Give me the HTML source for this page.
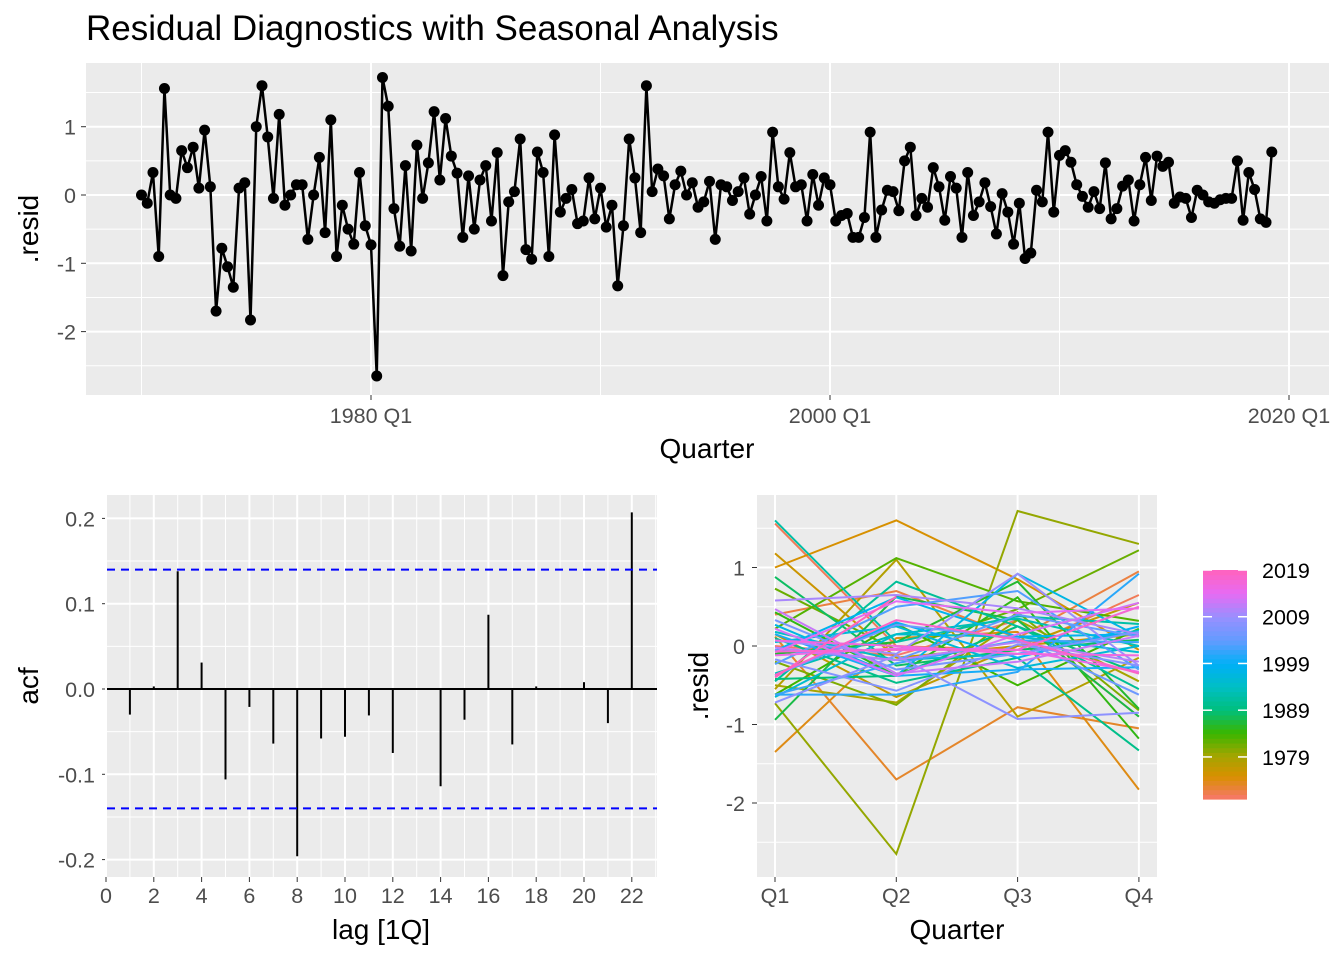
<!DOCTYPE html>
<html><head><meta charset="utf-8"><style>
html,body{margin:0;padding:0;background:#fff}
svg{display:block;font-family:"Liberation Sans",sans-serif}
</style></head><body>
<svg id="chart" width="1344" height="960" viewBox="0 0 1344 960" xmlns="http://www.w3.org/2000/svg">
<text x="86" y="40" font-size="35" fill="#000">Residual Diagnostics with Seasonal Analysis</text>
<g id="top"></g>
<g id="acf"></g>
<g id="season"></g>
<g id="legend"></g>
</svg>
<script>
const startYear = 1970;
const residuals = [
0.0,-0.12,0.33,-0.9, 1.56,0.0,-0.05,0.65, 0.4,0.7,0.1,0.95, 0.12,-1.7,-0.78,-1.05,
-1.35,0.1,0.18,-1.83, 1.0,1.6,0.85,-0.05, 1.18,-0.15,0.0,0.15, 0.15,-0.65,0.0,0.55,
-0.55,1.1,-0.9,-0.15, -0.5,-0.72,0.33,-0.45, -0.73,-2.65,1.72,1.3, -0.2,-0.75,0.43,-0.82,
0.73,-0.05,0.47,1.22, 0.22,1.12,0.57,0.32, -0.62,0.28,-0.5,0.22, 0.43,-0.38,0.62,-1.18,
-0.1,0.05,0.82,-0.8, -0.94,0.63,0.33,-0.9, 0.88,-0.25,-0.05,0.08, -0.42,-0.38,0.25,-0.35,
0.1,-0.47,-0.15,-1.33, -0.45,0.82,0.25,-0.55, 1.6,0.05,0.38,0.28, -0.35,0.15,0.35,0.0,
0.18,-0.18,-0.1,0.2, -0.65,0.15,0.12,-0.08, 0.05,0.25,-0.28,0.0, 0.27,-0.38,0.92,0.12,
-0.06,0.62,0.12,0.15, -0.38,0.3,-0.15,0.25, 0.15,-0.38,-0.3,-0.27, -0.62,-0.62,-0.33,0.92,
-0.62,-0.22,0.07,0.05, -0.23,0.5,0.7,-0.3, -0.05,-0.18,0.4,0.12, -0.37,0.27,0.1,-0.62,
0.33,-0.3,-0.1,0.18, -0.17,-0.57,0.02,-0.25, -0.72,-0.12,-0.93,-0.85, 0.07,-0.1,0.92,-0.25,
0.58,0.65,0.48,0.15, -0.02,-0.18,0.05,-0.2, 0.47,-0.35,-0.2,0.13, 0.22,-0.38,0.15,0.55,
-0.08,0.57,0.42,0.48, -0.12,-0.03,-0.05,-0.33, 0.07,0.0,-0.1,-0.12, -0.07,-0.05,-0.05,0.5,
-0.37,0.33,0.08,-0.35, -0.4,0.63];
const acfLags = [1,2,3,4,5,6,7,8,9,10,11,12,13,14,15,16,17,18,19,20,21,22];
const acfValues = [-0.03,0.003,0.138,0.031,-0.106,-0.021,-0.064,-0.196,-0.058,-0.056,-0.031,-0.075,0.0,-0.114,-0.036,0.087,-0.065,0.003,0.0,0.008,-0.04,0.207];
const acfBound = 0.14;
const topYTicks = [1,0,-1,-2];
const topXTicks = [1980,2000,2020];
const acfYTicks = [0.2,0.1,0.0,-0.1,-0.2];
const acfXTicks = [0,2,4,6,8,10,12,14,16,18,20,22];
const quarterLabels = ["Q1","Q2","Q3","Q4"];
const legendYears = [2019,2009,1999,1989,1979];

const NS="http://www.w3.org/2000/svg";
function mk(parent,tag,attrs,text){const e=document.createElementNS(NS,tag);for(const k in attrs)e.setAttribute(k,attrs[k]);if(text!==undefined)e.textContent=text;parent.appendChild(e);return e;}
const TICK="#4d4d4d", GRID="#ffffff", PANEL="#ebebeb";
const TS=21.5, AS=28;

// colour gradient anchors (year fraction 0..1)
const cAnch=[[0,[248,118,109]],[0.1,[216,144,0]],[0.19,[163,165,0]],[0.29,[57,182,0]],[0.39,[0,191,125]],[0.49,[0,191,196]],[0.59,[0,176,246]],[0.69,[97,156,255]],[0.79,[149,144,255]],[0.9,[231,107,243]],[1,[255,98,188]]];
function yearColor(y){let t=(y-startYear)/(2019-startYear);t=Math.max(0,Math.min(1,t));
for(let i=0;i<cAnch.length-1;i++){const a=cAnch[i],b=cAnch[i+1];if(t<=b[0]){const f=(t-a[0])/(b[0]-a[0]);
return `rgb(${a[1].map((v,k)=>Math.round(v+(b[1][k]-v)*f)).join(',')})`;}}
return 'rgb(255,98,188)';}
const lastYear=startYear+Math.floor((residuals.length-1)/4);

// ---------- top panel ----------
(function(){
const g=document.getElementById('top');
const L=86,R=1329,T=63,B=395;
const xq=q=>371+(q-(1980-startYear)*4)*(459/80);
const xy=yr=>xq((yr-startYear)*4);
const y=v=>195-v*68.3;
let p=mk(g,'rect',{x:L,y:T,width:R-L,height:B-T,fill:PANEL});

[1.5,0.5,-0.5,-1.5,-2.5].forEach(v=>mk(g,'line',{x1:L,x2:R,y1:y(v),y2:y(v),stroke:GRID,'stroke-width':1}));
[1970,1990,2010].forEach(yr=>mk(g,'line',{x1:xy(yr),x2:xy(yr),y1:T,y2:B,stroke:GRID,'stroke-width':1}));
topYTicks.forEach(v=>{mk(g,'line',{x1:L,x2:R,y1:y(v),y2:y(v),stroke:GRID,'stroke-width':2});
mk(g,'line',{x1:L-5,x2:L,y1:y(v),y2:y(v),stroke:'#333','stroke-width':1});
const t=mk(g,'text',{x:L-10,y:y(v)+8,'font-size':TS,fill:TICK,'text-anchor':'end'},String(v));
});
topXTicks.forEach(yr=>{mk(g,'line',{x1:xy(yr),x2:xy(yr),y1:T,y2:B,stroke:GRID,'stroke-width':2});
mk(g,'line',{x1:xy(yr),x2:xy(yr),y1:B,y2:B+5,stroke:'#333','stroke-width':1});
const t=mk(g,'text',{x:xy(yr),y:B+28,'font-size':TS,fill:TICK,'text-anchor':'middle'},yr+' Q1');
});
const pts=residuals.map((v,i)=>xq(i).toFixed(2)+','+y(v).toFixed(2)).join(' ');
const ln=mk(g,'polyline',{points:pts,fill:'none',stroke:'#000','stroke-width':2.5,'stroke-linejoin':'round'});

residuals.forEach((v,i)=>{const c=mk(g,'circle',{cx:xq(i),cy:y(v),r:5.5,fill:'#000'});
});
let t=mk(g,'text',{x:707,y:458,'font-size':AS,fill:'#000','text-anchor':'middle'},'Quarter');

t=mk(g,'text',{x:0,y:0,'font-size':AS,fill:'#000','text-anchor':'middle',transform:'translate(38,229) rotate(-90)'},'.resid');

})();

// ---------- ACF ----------
(function(){
const g=document.getElementById('acf');
const L=107,R=657,T=495,B=877;
const x=l=>106+l*23.9;
const y=v=>689-v*853;
let p=mk(g,'rect',{x:L,y:T,width:R-L,height:B-T,fill:PANEL});

[0.25,0.15,0.05,-0.05,-0.15].forEach(v=>mk(g,'line',{x1:L,x2:R,y1:y(v),y2:y(v),stroke:GRID,'stroke-width':1}));
for(let l=1;l<=23;l+=2)mk(g,'line',{x1:x(l),x2:x(l),y1:T,y2:B,stroke:GRID,'stroke-width':1});
acfYTicks.forEach(v=>{mk(g,'line',{x1:L,x2:R,y1:y(v),y2:y(v),stroke:GRID,'stroke-width':2});
mk(g,'line',{x1:L-5,x2:L,y1:y(v),y2:y(v),stroke:'#333','stroke-width':1});
const t=mk(g,'text',{x:L-12,y:y(v)+8,'font-size':TS,fill:TICK,'text-anchor':'end'},v.toFixed(1));
});
acfXTicks.forEach(l=>{mk(g,'line',{x1:x(l),x2:x(l),y1:T,y2:B,stroke:GRID,'stroke-width':2});
mk(g,'line',{x1:x(l),x2:x(l),y1:B,y2:B+5,stroke:'#333','stroke-width':1});
const t=mk(g,'text',{x:x(l),y:B+26,'font-size':TS,fill:TICK,'text-anchor':'middle'},String(l));
});
mk(g,'line',{x1:L,x2:R,y1:y(0),y2:y(0),stroke:'#000','stroke-width':2});
acfLags.forEach((l,i)=>{const b=mk(g,'line',{x1:x(l),x2:x(l),y1:y(0),y2:y(acfValues[i]),stroke:'#000','stroke-width':2});
});
[acfBound,-acfBound].forEach(v=>{const d=mk(g,'line',{x1:L,x2:R,y1:y(v),y2:y(v),stroke:'#0000ff','stroke-width':2,'stroke-dasharray':'8,6'});
});
let t=mk(g,'text',{x:381,y:939,'font-size':AS,fill:'#000','text-anchor':'middle'},'lag [1Q]');

t=mk(g,'text',{x:0,y:0,'font-size':AS,fill:'#000','text-anchor':'middle',transform:'translate(38,686) rotate(-90)'},'acf');

})();

// ---------- seasonal ----------
(function(){
const g=document.getElementById('season');
const L=757,R=1157,T=495,B=877;
const x=q=>775+q*121.3;
const y=v=>646-v*78.5;
let p=mk(g,'rect',{x:L,y:T,width:R-L,height:B-T,fill:PANEL});

[1.5,0.5,-0.5,-1.5,-2.5].forEach(v=>mk(g,'line',{x1:L,x2:R,y1:y(v),y2:y(v),stroke:GRID,'stroke-width':1}));
topYTicks.forEach(v=>{mk(g,'line',{x1:L,x2:R,y1:y(v),y2:y(v),stroke:GRID,'stroke-width':2});
mk(g,'line',{x1:L-5,x2:L,y1:y(v),y2:y(v),stroke:'#333','stroke-width':1});
const t=mk(g,'text',{x:L-12,y:y(v)+8,'font-size':TS,fill:TICK,'text-anchor':'end'},String(v));
});
quarterLabels.forEach((q,i)=>{mk(g,'line',{x1:x(i),x2:x(i),y1:T,y2:B,stroke:GRID,'stroke-width':2});
mk(g,'line',{x1:x(i),x2:x(i),y1:B,y2:B+5,stroke:'#333','stroke-width':1});
const t=mk(g,'text',{x:x(i),y:B+26,'font-size':TS,fill:TICK,'text-anchor':'middle'},q);
});
for(let yr=startYear;yr<=lastYear;yr++){
  const pts=[];for(let q=0;q<4;q++){const i=(yr-startYear)*4+q;if(i<residuals.length)pts.push(x(q).toFixed(2)+','+y(residuals[i]).toFixed(2));}
  const pl=mk(g,'polyline',{points:pts.join(' '),fill:'none',stroke:yearColor(yr),'stroke-width':2});
  
  
}
let t=mk(g,'text',{x:957,y:939,'font-size':AS,fill:'#000','text-anchor':'middle'},'Quarter');

t=mk(g,'text',{x:0,y:0,'font-size':AS,fill:'#000','text-anchor':'middle',transform:'translate(708,686) rotate(-90)'},'.resid');

})();

// ---------- legend ----------
(function(){
const g=document.getElementById('legend');
const L=1203,W=44,yb=799,yt=570;
const y=yr=>yb-(yr-startYear)*(yb-yt)/(2019-startYear);
for(let yr=startYear;yr<2019;yr++){mk(g,'rect',{x:L,y:y(yr+1),width:W,height:y(yr)-y(yr+1)+0.6,fill:yearColor(yr+0.5)});}
legendYears.forEach(yr=>{
mk(g,'line',{x1:L,x2:L+9,y1:y(yr),y2:y(yr),stroke:'#fff','stroke-width':1.5});
mk(g,'line',{x1:L+W-9,x2:L+W,y1:y(yr),y2:y(yr),stroke:'#fff','stroke-width':1.5});
const t=mk(g,'text',{x:1262,y:y(yr)+8,'font-size':TS,fill:'#000'},String(yr));
});
})();
</script>
</body></html>
